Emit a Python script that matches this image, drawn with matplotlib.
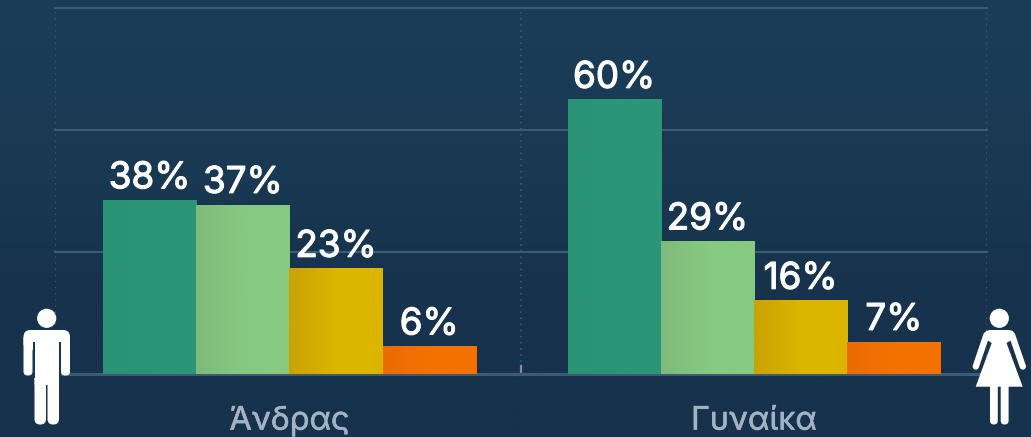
import numpy as np
import matplotlib
matplotlib.use("Agg")
import matplotlib.pyplot as plt
import matplotlib.patheffects as pe
from matplotlib.colors import LinearSegmentedColormap
from matplotlib.patches import Circle, FancyBboxPatch, Polygon

categories = ["Άνδρας", "Γυναίκα"]
series_1 = [38, 60]
series_2 = [37, 29]
series_3 = [23, 16]
series_4 = [6, 7]
value_labels = [["38%", "60%"], ["37%", "29%"], ["23%", "16%"], ["6%", "7%"]]
bar_left = ["#2a9375", "#7fbb7c", "#c9a300", "#e96c00"]
bar_right = ["#2a9577", "#86c980", "#dcb500", "#f57200"]

W, H = 1031, 437
fig = plt.figure(figsize=(W / 100, H / 100), dpi=100)
plt.rcParams["font.family"] = ["Inter", "DejaVu Sans"]

# background and the two icons live in a pixel sized axes
bg = fig.add_axes([0, 0, 1, 1], zorder=0)
bg.set_xlim(0, W)
bg.set_ylim(H, 0)
bg.axis("off")
grad = LinearSegmentedColormap.from_list("bg", ["#1b3d58", "#1a3a54", "#17324c", "#17324c"])
bg.imshow(np.linspace(0, 1, 256).reshape(-1, 1), cmap=grad, extent=[0, W, H, 0], aspect="auto")

ax = fig.add_axes([55 / W, 1 - 373.7 / H, 932 / W, 365.4 / H], zorder=1)
ax.patch.set_alpha(0)
for s in ax.spines.values():
    s.set_visible(False)
ax.set_yticks([0, 80 / 3, 160 / 3, 80])
ax.set_yticklabels([])
ax.tick_params(axis="y", length=0)
ax.grid(axis="y", color="#3c5b76", lw=1.5, zorder=1, clip_on=False)
for xv in [-0.5, 0.5, 1.5]:
    ax.axvline(xv, color="#3f5f79", lw=1.1, ls=(0, (1, 3)), zorder=1)
ax.plot([0.5, 0.5], [0, 1.6], color="#7d8b98", lw=1.6, zorder=2)
ax.axhline(0, color="#3f5a74", lw=2.2, zorder=2, clip_on=False)

x = np.array([0.003, 1.0])
w = 0.2
all_series = [series_1, series_2, series_3, series_4]
for i, vals in enumerate(all_series):
    cmap = LinearSegmentedColormap.from_list("b", [bar_left[i], bar_right[i], bar_right[i]])
    pos = x + (i - 1.5) * w
    bars = ax.bar(pos, vals, w, color=bar_right[i], zorder=3)
    for b, txt in zip(bars, value_labels[i]):
        x0, h = b.get_x(), b.get_height()
        ax.imshow(np.linspace(0, 1, 64).reshape(1, -1), cmap=cmap, aspect="auto",
                  extent=[x0, x0 + w, 0, h], zorder=3.1)
        ax.annotate(txt, (x0 + w / 2, h), xytext=(0, 3.5), textcoords="offset points",
                    ha="center", va="bottom", color="white", fontsize=26.5,
                    path_effects=[pe.withStroke(linewidth=0.8, foreground="white")])
ax.set_xlim(-0.5, 1.5)
ax.set_ylim(0, 80)
ax.set_xticks(x, labels=categories)
ax.tick_params(axis="x", length=0, pad=23, labelsize=23.3, labelcolor="#a4b3c1")
for t in ax.get_xticklabels():
    t.set_path_effects([pe.withStroke(linewidth=0.4, foreground="#a4b3c1")])

icon = fig.add_axes([0, 0, 1, 1], zorder=2)
icon.set_xlim(0, W)
icon.set_ylim(H, 0)
icon.axis("off")


def rbox(x0, y0, x1, y1, r):
    icon.add_patch(FancyBboxPatch((x0 + r, y0 + r), x1 - x0 - 2 * r, y1 - y0 - 2 * r,
                                  boxstyle=f"round,pad={r},rounding_size={r}", fc="white", ec="none"))


# man
icon.add_patch(Circle((46.7, 318.3), 9.6, fc="white", ec="none"))
rbox(23.5, 330, 70, 350, 7)
rbox(23.5, 335, 32.5, 375.5, 4)
rbox(61, 335, 70, 375.5, 4)
rbox(34.5, 335, 59, 385, 1)
rbox(34.5, 370, 46, 424.5, 5.5)
rbox(47.5, 370, 59, 424.5, 5.5)
icon.add_patch(plt.Rectangle((33, 342), 1.5, 36, fc="#1a3550", ec="none"))
icon.add_patch(plt.Rectangle((59, 342), 1.5, 36, fc="#1a3550", ec="none"))

# woman
icon.add_patch(Circle((999.3, 318.3), 9.6, fc="white", ec="none"))
icon.add_patch(Polygon([(986, 331), (990, 330), (1009, 330), (1013, 331), (1015, 338), (1006.5, 343),
                        (1022.7, 386.7), (975.7, 386.7), (991.7, 343), (984, 338)], fc="white", ec="none"))
icon.plot([986.5, 975.8], [335, 366.5], color="white", lw=4.6, solid_capstyle="round")
icon.plot([1012, 1022.8], [335, 366.5], color="white", lw=4.6, solid_capstyle="round")
rbox(990, 380, 997.8, 424.5, 3.9)
rbox(1000.7, 380, 1008.6, 424.5, 3.9)

fig.savefig("out.png", dpi=100)
